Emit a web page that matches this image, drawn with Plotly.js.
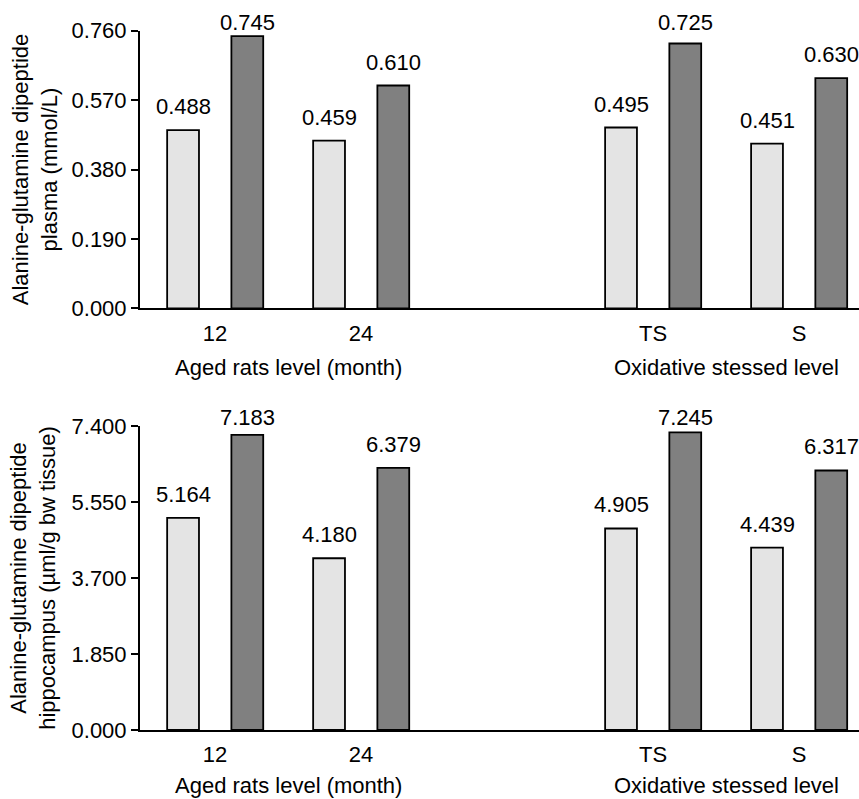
<!DOCTYPE html>
<html>
<head>
<meta charset="utf-8">
<script src="https://cdn.plot.ly/plotly-3.0.1.min.js"></script>
<style>html,body{margin:0;padding:0;background:#fff;}#chart{width:859px;height:799px;}</style>
</head>
<body>
<div id="chart"></div>
<script>
// ---- data ----
const categories = ['12', '24', 'TS', 'S'];
const axisOrder = ['12', '24', ' ', 'TS', 'S'];   // blank slot between the two groups
const groupTitles = ['Aged rats level (month)', 'Oxidative stessed level'];
const groupMembers = [['12', '24'], ['TS', 'S']];

const plasmaLight = [0.488, 0.459, 0.495, 0.451];
const plasmaDark  = [0.745, 0.610, 0.725, 0.630];
const hippoLight  = [5.164, 4.180, 4.905, 4.439];
const hippoDark   = [7.183, 6.379, 7.245, 6.317];

const plasmaTicks = [0, 0.19, 0.38, 0.57, 0.76];
const hippoTicks  = [0, 1.85, 3.7, 5.55, 7.4];

const plasmaTitle = 'Alanine-glutamine dipeptide<br>plasma (mmol/L)';
const hippoTitle  = 'Alanine-glutamine dipeptide<br>hippocampus (µml/g bw tissue)';

// ---- styling / layout ----
const FONT = 'Liberation Sans, Arial, sans-serif';
const FS = 22;
const lightColor = '#e4e4e4';
const darkColor = '#808080';
const barW = 0.218;
const H = 799, mT = 20, mB = 20;
const topDomain = [0.6201, 0.9859];
const botDomain = [0.0646, 0.4651];
const plotH = H - mT - mB;

function bar(y, color, offset, xa, ya) {
  return {
    type: 'bar', x: categories, y: y, xaxis: xa, yaxis: ya,
    width: barW, offset: offset,
    marker: {color: color, line: {color: '#000', width: 1.8}},
    hoverinfo: 'x+y', showlegend: false
  };
}

const data = [
  bar(plasmaLight, lightColor, -0.328, 'x', 'y'),
  bar(plasmaDark, darkColor, 0.112, 'x', 'y'),
  bar(hippoLight, lightColor, -0.328, 'x2', 'y2'),
  bar(hippoDark, darkColor, 0.112, 'x2', 'y2')
];

const annotations = [];
function valueLabels(vals, offset, xa, ya, ymax, dom) {
  const hpx = (dom[1] - dom[0]) * plotH;
  vals.forEach((v, i) => {
    const head = (ymax - v) / ymax * hpx;
    const shift = Math.min(9, head - 6);
    const idx = axisOrder.indexOf(categories[i]);
    annotations.push({
      xref: xa, yref: ya, x: idx + offset + barW / 2, y: v,
      text: v.toFixed(3), showarrow: false, yanchor: 'bottom', xanchor: 'center',
      yshift: shift, font: {family: FONT, size: FS, color: '#000'}
    });
  });
}
const pMax = plasmaTicks[plasmaTicks.length - 1];
const hMax = hippoTicks[hippoTicks.length - 1];
valueLabels(plasmaLight, -0.328, 'x', 'y', pMax, topDomain);
valueLabels(plasmaDark, 0.112, 'x', 'y', pMax, topDomain);
valueLabels(hippoLight, -0.328, 'x2', 'y2', hMax, botDomain);
valueLabels(hippoDark, 0.112, 'x2', 'y2', hMax, botDomain);

[['x', 'y domain', -45], ['x2', 'y2 domain', -41]].forEach(([xa, ya, ys]) => {
  groupTitles.forEach((t, g) => {
    const ids = groupMembers[g].map(c => axisOrder.indexOf(c));
    annotations.push({
      xref: xa, yref: ya, x: (ids[0] + ids[1]) / 2, y: 0,
      yanchor: 'top', xanchor: 'center', yshift: ys,
      text: t, showarrow: false, font: {family: FONT, size: FS, color: '#000'}
    });
  });
});

function xAxis(anchor) {
  return {
    type: 'category', categoryorder: 'array', categoryarray: axisOrder,
    range: [-0.514, 4.411], anchor: anchor, domain: [0, 1],
    showline: true, linecolor: '#000', linewidth: 2,
    ticks: '', ticklabelstandoff: 4, showgrid: false, zeroline: false,
    tickfont: {family: FONT, size: FS, color: '#000'}, fixedrange: true
  };
}
function yAxis(anchor, dom, ticks, title, standoff) {
  return {
    anchor: anchor, domain: dom, range: [0, ticks[ticks.length - 1]],
    tickmode: 'array', tickvals: ticks, ticktext: ticks.map(t => t.toFixed(3)),
    showline: true, linecolor: '#000', linewidth: 2,
    ticks: 'outside', ticklen: 7, tickwidth: 2, tickcolor: '#000',
    showgrid: false, zeroline: false,
    tickfont: {family: FONT, size: FS, color: '#000'},
    title: {text: title, font: {family: FONT, size: FS, color: '#000'}, standoff: standoff},
    fixedrange: true
  };
}

const layout = {
  width: 859, height: H,
  margin: {l: 140, r: 0, t: mT, b: mB},
  paper_bgcolor: '#fff', plot_bgcolor: '#fff',
  font: {family: FONT, size: FS, color: '#000'},
  barmode: 'overlay', showlegend: false,
  xaxis: xAxis('y'),
  yaxis: yAxis('x', topDomain, plasmaTicks, plasmaTitle, 8),
  xaxis2: xAxis('y2'),
  yaxis2: yAxis('x2', botDomain, hippoTicks, hippoTitle, 10),
  annotations: annotations
};

Plotly.newPlot('chart', data, layout, {displayModeBar: false, staticPlot: true});
</script>
</body>
</html>
